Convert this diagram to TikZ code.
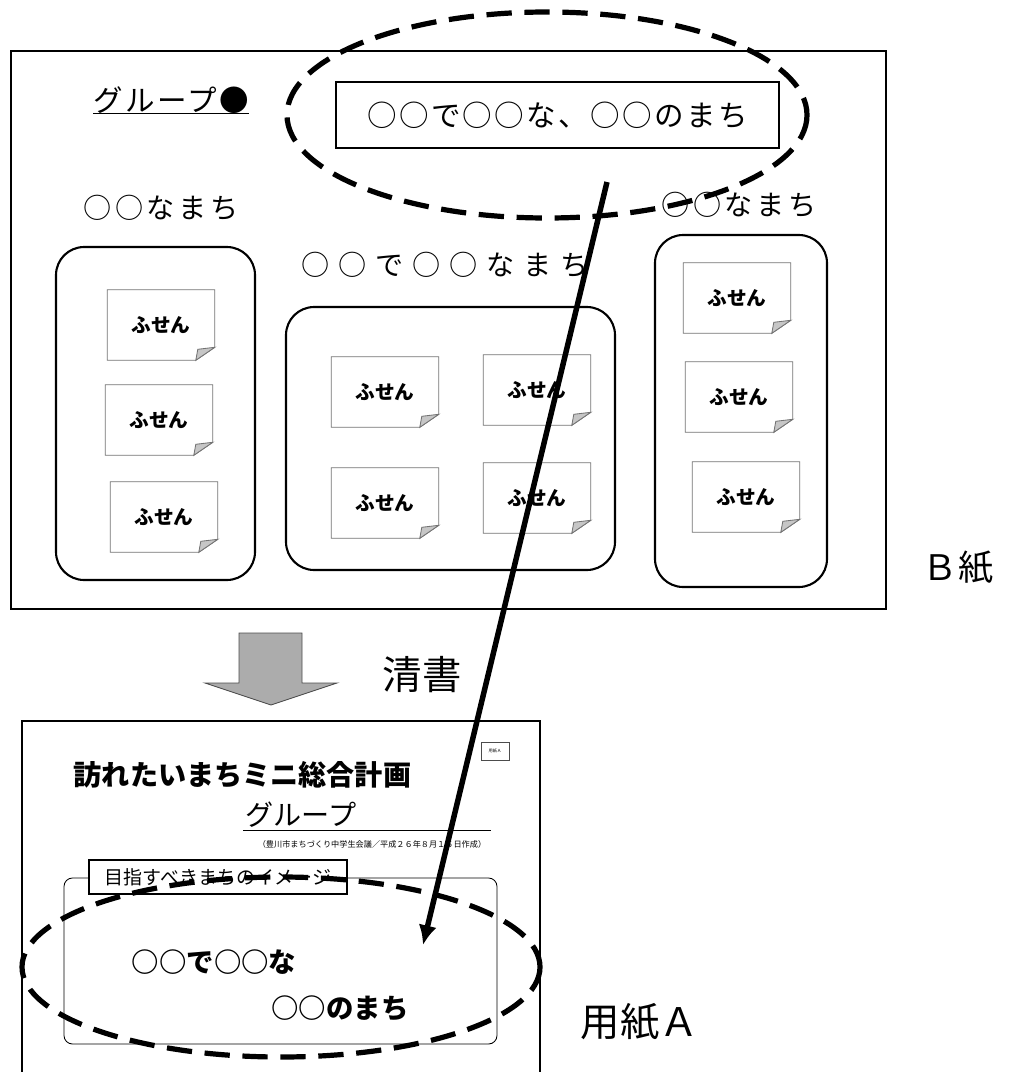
\documentclass[tikz,border=0pt]{standalone}
\usepackage{fontspec}
\newfontfamily\jp{Noto Sans CJK JP}
\usetikzlibrary{arrows.meta}

\begin{document}
\begin{tikzpicture}[
    x=0.025cm, y=-0.025cm,
    bframe/.style={draw, line width=1.3pt},
    grpbox/.style={draw, line width=1.5pt, rounded corners=20pt},
    fusen/.style={minimum width=2.675cm, minimum height=1.75cm, inner sep=0, font=\jp\bfseries\fontsize{14}{15}\selectfont},
    noteline/.style={draw=gray!90!black, line width=0.6pt},
    foldtri/.style={fill=gray!45, draw=gray!90!black, line width=0.6pt},
    tagtext/.style={inner sep=0, font=\jp\fontsize{20}{24}\selectfont},
    cutline/.style={line width=3.7pt, dash pattern=on 18pt off 9pt},
    linkarrow/.style={line width=3.9pt, -{Latex[length=14pt,width=13pt]}}
]
    \useasboundingbox (0,0) rectangle (1009,1072);

    % B paper
    \draw[bframe] (11,51) rectangle (886,609);
    \node[tagtext, font=\jp\fontsize{21}{24}\selectfont\addfontfeatures{LetterSpace=8}] (grp) at (171,100) {グループ●};
    \draw[line width=1.1pt] (grp.south west) -- (grp.south east);
    \node[bframe, minimum width=11.075cm, minimum height=1.65cm, font=\jp\fontsize{21}{24}\selectfont\addfontfeatures{LetterSpace=8}] (theme) at (557.5,115) {○○で○○な、○○のまち};

    \node[tagtext, font=\jp\fontsize{20}{24}\selectfont\addfontfeatures{LetterSpace=13}] (labL) at (161,208) {○○なまち};
    \node[tagtext, font=\jp\fontsize{20}{24}\selectfont\addfontfeatures{LetterSpace=32}] (labM) at (445,265) {○○で○○なまち};
    \node[tagtext, font=\jp\fontsize{20}{24}\selectfont\addfontfeatures{LetterSpace=13}] (labR) at (739,205) {○○なまち};

    \draw[grpbox] (56,247) rectangle (255,580);
    \draw[grpbox] (286,307) rectangle (615,570);
    \draw[grpbox] (655,235) rectangle (827,587);

    % sticky notes
    \node[fusen] (l1) at (161,325) {ふせん};
    \node[fusen] (l2) at (159,420) {ふせん};
    \node[fusen] (l3) at (164,517) {ふせん};
    \node[fusen] (m1) at (385,392) {ふせん};
    \node[fusen] (m2) at (537,390) {ふせん};
    \node[fusen] (m3) at (385,503) {ふせん};
    \node[fusen] (m4) at (537,498) {ふせん};
    \node[fusen] (r1) at (737,298) {ふせん};
    \node[fusen] (r2) at (739,397) {ふせん};
    \node[fusen] (r3) at (746,497) {ふせん};
    \foreach \n in {l1,l2,l3,m1,m2,m3,m4,r1,r2,r3} {
        \draw[noteline] (\n.north west) -- (\n.north east) -- ([shift={(0,-13)}]\n.south east)
            -- ([shift={(-19,0)}]\n.south east) -- (\n.south west) -- cycle;
        \draw[foldtri] ([shift={(0,-13)}]\n.south east) -- ([shift={(-17,-11)}]\n.south east)
            -- ([shift={(-19,0)}]\n.south east) -- cycle;
    }

    \draw[cutline] (547,115) ellipse (260 and 103);
    \node[tagtext, font=\jp\fontsize{25}{28}\selectfont] (bname) at (958,567) {Ｂ紙};

    % clean copy
    \draw[fill=gray!65, draw=black!70, line width=0.6pt] (239,633) -- (302,633) -- (302,683) -- (337,683)
        -- (271,705) -- (205,683) -- (239,683) -- cycle;
    \node[tagtext, font=\jp\fontsize{28}{32}\selectfont] (seisho) at (422,675) {清書};

    % A paper
    \draw[bframe] (22,1072) -- (22,721) -- (540,721) -- (540,1072);
    \node[draw=black!70, line width=0.6pt, minimum width=0.7cm, minimum height=0.45cm, inner sep=0, font=\jp\fontsize{3}{3}\selectfont] (tagA) at (495,751) {用紙Ａ};
    \node[tagtext, font=\jp\bfseries\fontsize{20}{24}\selectfont] (title) at (242.5,775) {訪れたいまちミニ総合計画};
    \node[tagtext] (grpA) at (301,815) {グループ};
    \draw[line width=0.7pt] (243,830) -- (491,830);
    \node[tagtext, font=\jp\fontsize{5.8}{7}\selectfont] (note) at (372,844) {（豊川市まちづくり中学生会議／平成２６年８月１６日作成）};
    \draw[line width=0.6pt, rounded corners=6pt] (64,878) rectangle (497,1044);
    \node[draw, fill=white, line width=1pt, minimum width=6.45cm, minimum height=0.85cm, inner sep=0, font=\jp\fontsize{13.5}{15}\selectfont] (aim) at (218,877) {目指すべきまちのイメージ};
    \node[tagtext, font=\jp\bfseries\fontsize{19.5}{22}\selectfont] (line1) at (214,962) {○○で○○な};
    \node[tagtext, font=\jp\bfseries\fontsize{19.5}{22}\selectfont] (line2) at (340,1008) {○○のまち};
    \draw[cutline] (281,967) ellipse (259 and 90);
    \node[tagtext, font=\jp\fontsize{28}{32}\selectfont] (aname) at (640,1022) {用紙Ａ};

    % link
    \coordinate (from) at (607,182);
    \coordinate (to) at (423,945);
    \draw[linkarrow] (from) -- (to);
\end{tikzpicture}
\end{document}
